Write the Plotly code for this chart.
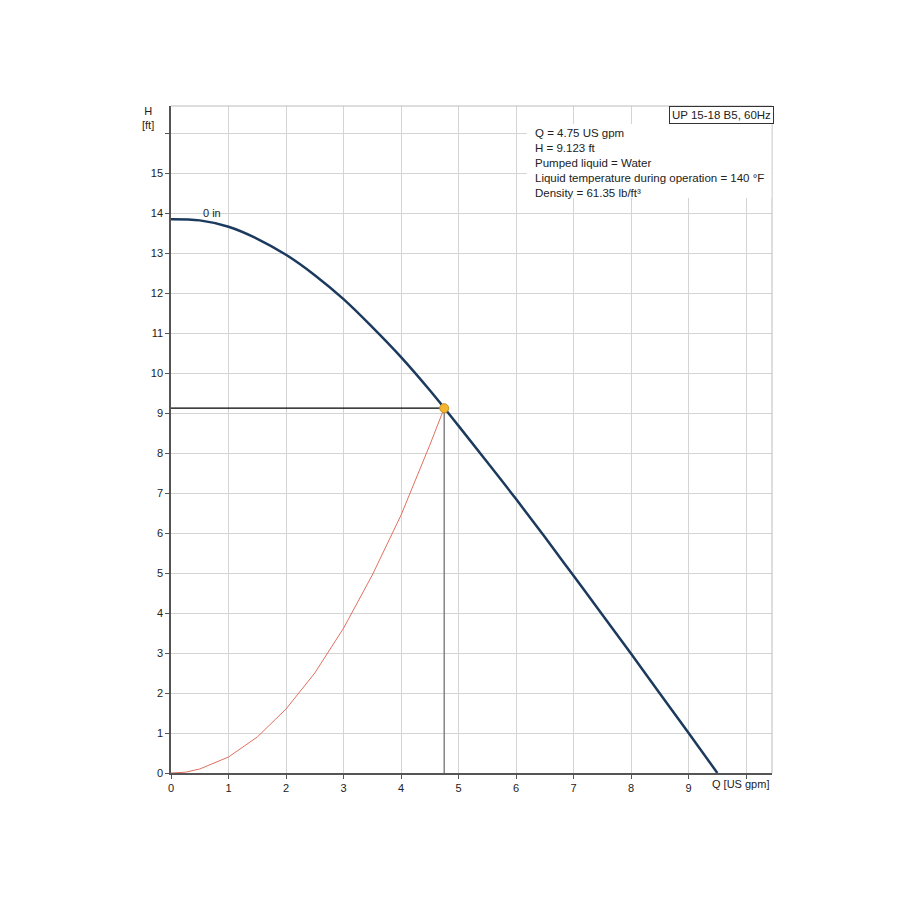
import plotly.graph_objects as go

# curva de la bomba (Q en US gpm, H en ft)
q_bomba = [0, 0.5, 1, 1.5, 2, 2.5, 3, 3.5, 4, 4.5, 5, 5.5, 6, 6.5, 7, 7.5, 8, 8.5, 9, 9.5]
h_bomba = [13.85, 13.82, 13.66, 13.36, 12.96, 12.45, 11.85, 11.15, 10.40, 9.57, 8.68,
           7.77, 6.85, 5.9, 4.93, 3.96, 2.98, 1.99, 1.0, 0]

# curva del sistema
q_sistema = [0, 0.25, 0.5, 1, 1.5, 2, 2.5, 3, 3.5, 4, 4.5, 4.75]
h_sistema = [0, 0.02, 0.1, 0.4, 0.9, 1.6, 2.5, 3.62, 4.95, 6.45, 8.2, 9.123]

# punto de trabajo
q_punto = 4.75
h_punto = 9.123

x_ticks = [0, 1, 2, 3, 4, 5, 6, 7, 8, 9, 10]
x_labels = ["0", "1", "2", "3", "4", "5", "6", "7", "8", "9", ""]
y_ticks = list(range(0, 17))
y_labels = [str(v) for v in range(0, 16)] + [""]

info = ["Q = 4.75 US gpm", "H = 9.123 ft", "Pumped liquid = Water",
        "Liquid temperature during operation = 140 °F", "Density = 61.35 lb/ft³"]

familia = "Liberation Sans, Arial, sans-serif"
fuente = dict(family=familia, size=11, color="#222")

fig = go.Figure()

# lineas del punto de trabajo
fig.add_trace(go.Scatter(x=[0, q_punto], y=[h_punto, h_punto], mode="lines",
                         line=dict(color="black", width=1.2), hoverinfo="skip"))
fig.add_trace(go.Scatter(x=[q_punto, q_punto], y=[h_punto, 0], mode="lines",
                         line=dict(color="#666", width=1.2), hoverinfo="skip"))

fig.add_trace(go.Scatter(x=q_sistema, y=h_sistema, mode="lines",
                         line=dict(color="#e07060", width=1)))
fig.add_trace(go.Scatter(x=q_bomba, y=h_bomba, mode="lines", line_shape="spline",
                         line=dict(color="#1c3a5e", width=2.5)))
fig.add_trace(go.Scatter(x=[q_punto], y=[h_punto], mode="markers",
                         marker=dict(color="#f2b632", size=9, line=dict(color="#d09020", width=1))))

fig.update_layout(
    width=900, height=900,
    margin=dict(l=163, r=136, t=98, b=135),
    paper_bgcolor="white", plot_bgcolor="white",
    showlegend=False,
    font=fuente,
)

fig.update_xaxes(range=[0, 10.45], tickvals=x_ticks, ticktext=x_labels,
                 showgrid=True, gridcolor="#d4d4d4", gridwidth=1,
                 showline=True, linecolor="#555", linewidth=1.5,
                 ticks="outside", ticklen=4, tickcolor="#555", zeroline=False)
fig.update_yaxes(range=[0, 16.68], tickvals=y_ticks, ticktext=y_labels,
                 showgrid=True, gridcolor="#d4d4d4", gridwidth=1,
                 showline=True, linecolor="#555", linewidth=1.5,
                 ticks="outside", ticklen=4, tickcolor="#555", zeroline=False)

# borde superior y derecho
fig.add_shape(type="line", xref="paper", yref="paper", x0=0, x1=1, y0=1, y1=1,
              line=dict(color="#bbb", width=1))
fig.add_shape(type="line", xref="paper", yref="paper", x0=1, x1=1, y0=0, y1=1,
              line=dict(color="#bbb", width=1))

# caja de informacion
fig.add_shape(type="rect", xref="paper", yref="paper", x0=0.592, x1=0.999, y0=0.862, y1=0.973,
              fillcolor="white", line=dict(width=0), layer="above")
fig.add_annotation(xref="paper", yref="paper", x=0.603, y=0.971, xanchor="left", yanchor="top",
                   text="<br>".join(info), showarrow=False, align="left",
                   font=dict(family=familia, size=11.5, color="#222"))
fig.add_annotation(xref="paper", yref="paper", x=1.003, y=1.0, xanchor="right", yanchor="top",
                   text="UP 15-18 B5, 60Hz", showarrow=False, bgcolor="white",
                   bordercolor="#333", borderwidth=1, borderpad=2,
                   font=dict(family=familia, size=11.5, color="#222"))

fig.add_annotation(x=0.71, y=14.0, text="0 in", showarrow=False, xanchor="center", yanchor="middle",
                   font=dict(family=familia, size=11, color="#222"))
fig.add_annotation(xref="paper", yref="paper", x=-0.038, y=0.982, text="H<br>[ft]", showarrow=False,
                   xanchor="center", yanchor="middle", align="center",
                   font=dict(family=familia, size=11, color="#222"))
fig.add_annotation(x=9.9, y=0, yref="y", text="Q [US gpm]", showarrow=False,
                   xanchor="center", yanchor="top", yshift=-3,
                   font=dict(family=familia, size=11, color="#222"))

fig.write_html("out.html")
